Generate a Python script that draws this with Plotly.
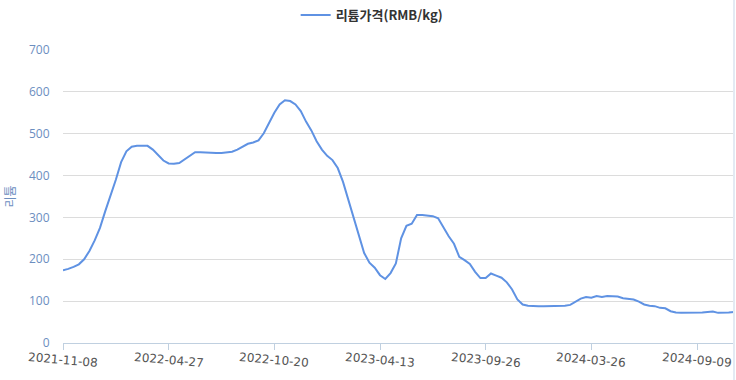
import plotly.graph_objects as go

# Tick labels (one every 20 points on the category axis)
tick_labels = ["2021-11-08", "2022-04-27", "2022-10-20", "2023-04-13",
               "2023-09-26", "2024-03-26", "2024-09-09"]
points_per_tick = 20

# Lithium price (RMB/kg)
price = [174, 177, 182, 188, 200, 220, 245, 275, 315, 352,
         390, 432, 458, 469, 471, 471, 471, 462, 448, 436,
         429, 428, 430, 439, 449, 456, 456, 455, 454, 454,
         454, 455, 457, 462, 469, 476, 479, 484, 501, 527,
         550, 570, 580, 578, 570, 554, 529, 508, 482, 462,
         447, 437, 418, 385, 342, 295, 253, 215, 192, 180,
         162, 153, 167, 190, 250, 280, 285, 306, 306, 304,
         303, 298, 276, 255, 237, 206, 198, 189, 170, 155,
         155, 166, 161, 156, 145, 128, 104, 92, 89, 88,
         88, 88, 88, 88, 88, 89, 91, 99, 106, 110,
         108, 112, 110, 112, 112, 111, 107, 105, 104, 99,
         92, 89, 88, 84, 83, 76, 73, 72, 72, 72,
         72, 73, 74, 75, 72, 72, 73, 74]

x_idx = list(range(len(price)))
tick_vals = [i * points_per_tick for i in range(len(tick_labels))]

fig = go.Figure()
fig.add_trace(go.Scatter(
    x=x_idx, y=price, mode="lines", name="리튬가격(RMB/kg)",
    line=dict(color="#5f92e3", width=2),
))

# Slanted, centred tick labels
for v, lab in zip(tick_vals, tick_labels):
    fig.add_annotation(
        x=v, xref="x", y=0, yref="paper", yanchor="top", xanchor="center",
        yshift=-5, text=lab, showarrow=False, textangle=5,
        font=dict(size=12, color="#555555", family="DejaVu Sans"),
    )

fig.add_shape(type="line", xref="paper", yref="paper", x0=1.0, x1=1.0,
              y0=-0.14, y1=1.18, line=dict(color="#e3eaf3", width=2))

fig.update_layout(
    width=736, height=380,
    margin=dict(l=63, r=2, t=50, b=37),
    paper_bgcolor="white", plot_bgcolor="white",
    font=dict(family="Noto Sans CJK KR, Open Sans, sans-serif"),
    showlegend=True,
    legend=dict(orientation="h", x=0.46, xanchor="center", y=1.0, yref="container",
                yanchor="top",
                font=dict(size=13, color="#333333", family="Noto Sans CJK KR",
                          weight="bold"),
                itemwidth=30),
    xaxis=dict(
        range=[0, len(price) - 1],
        tickmode="array", tickvals=tick_vals, showticklabels=False,
        showgrid=False, zeroline=False,
        showline=True, linecolor="#c0d0e0", linewidth=1,
        ticks="outside", ticklen=6, tickcolor="#c0d0e0",
    ),
    yaxis=dict(
        range=[0, 700], dtick=100,
        tickfont=dict(size=12, color="#6c8ebf", family="Open Sans"),
        gridcolor="#dcdcdc", gridwidth=1,
        zeroline=False, showline=False,
        ticks="outside", ticklen=10, tickcolor="rgba(0,0,0,0)",
        title=dict(text="리튬", font=dict(size=12, color="#6c8ebf"), standoff=10),
    ),
)

fig.write_html("out.html")
